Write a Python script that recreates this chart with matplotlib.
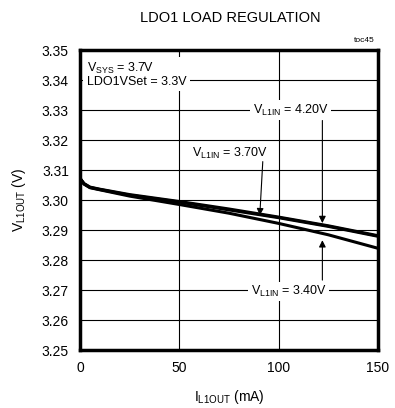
import matplotlib
matplotlib.use("Agg")
import matplotlib.pyplot as plt
from matplotlib import font_manager

names = {f.name for f in font_manager.fontManager.ttflist}
fam = "Liberation Sans Narrow" if "Liberation Sans Narrow" in names else "Liberation Sans"
plt.rcParams['font.family'] = [fam, 'DejaVu Sans']

# load current (mA) and output voltage (V)
current = [0, 2, 5, 10, 25, 50, 75, 100, 125, 150]
v_420 = [3.3072, 3.3055, 3.3043, 3.3036, 3.3018, 3.2995, 3.2970, 3.2943, 3.2914, 3.2881]
v_370 = [3.3072, 3.3054, 3.3042, 3.3035, 3.3016, 3.2993, 3.2967, 3.2941, 3.2912, 3.2879]
v_340 = [3.3072, 3.3053, 3.3041, 3.3034, 3.3013, 3.2985, 3.2956, 3.2922, 3.2884, 3.2839]

xticks = [0, 50, 100, 150]
yticks = [3.25, 3.26, 3.27, 3.28, 3.29, 3.30, 3.31, 3.32, 3.33, 3.34, 3.35]

fig = plt.figure(figsize=(3.95, 4.08), dpi=100)
ax = fig.add_axes([80 / 395, 58 / 408, 298 / 395, 300 / 408])

for v in (v_420, v_370, v_340):
    ax.plot(current, v, color='black', lw=2.2, solid_capstyle='butt', zorder=3)

ax.set_xlim(0, 150)
ax.set_ylim(3.25, 3.35)
ax.set_xticks(xticks)
ax.set_yticks(yticks)
ax.set_yticklabels(["%.2f" % t for t in yticks])
ax.tick_params(length=0, labelsize=10, pad=8)
ax.grid(True, color='black', lw=0.8)
for s in ax.spines.values():
    s.set_linewidth(2.5)

box = dict(facecolor='white', edgecolor='none', pad=1.5)
ax.text(3.5, 3.3418, "V$_{\\mathregular{SYS}}$ = 3.7V\nLDO1VSet = 3.3V", fontsize=9,
        va='center', ha='left', linespacing=0.95, zorder=2,
        bbox=dict(facecolor='white', edgecolor='none', pad=2.5))

ax.text(106, 3.33, "V$_{\\mathregular{L1IN}}$ = 4.20V", fontsize=9, ha='center', va='center',
        bbox=box, zorder=4)
ax.text(75.5, 3.3155, "V$_{\\mathregular{L1IN}}$ = 3.70V", fontsize=9, ha='center', va='center',
        bbox=box, zorder=4)
ax.text(105, 3.2695, "V$_{\\mathregular{L1IN}}$ = 3.40V", fontsize=9, ha='center', va='center',
        bbox=box, zorder=4)

arrow = dict(arrowstyle='-|>', color='black', lw=0.8, mutation_scale=10, shrinkA=0, shrinkB=0)
ax.annotate("", xy=(122, 3.2923), xytext=(122, 3.3265), arrowprops=arrow, zorder=5)
ax.annotate("", xy=(90.5, 3.2949), xytext=(92, 3.3128), arrowprops=arrow, zorder=5)
ax.annotate("", xy=(122, 3.2866), xytext=(122, 3.2733), arrowprops=arrow, zorder=5)

fig.text(230 / 395, 1 - 18 / 408, "LDO1 LOAD REGULATION", ha='center', va='center', fontsize=10.5)
fig.text(375 / 395, 1 - 41 / 408, "toc45", ha='right', va='center', fontsize=6)
ax.set_xlabel("I$_{\\mathregular{L1OUT}}$ (mA)", fontsize=10, labelpad=9)
ax.set_ylabel("V$_{\\mathregular{L1OUT}}$ (V)", fontsize=10, labelpad=10)

fig.savefig("out.png", dpi=100)
